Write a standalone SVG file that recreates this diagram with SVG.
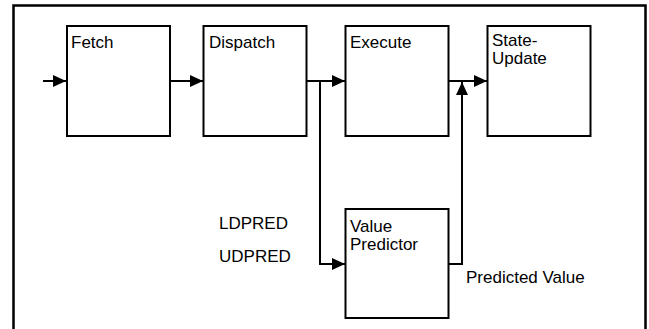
<svg xmlns="http://www.w3.org/2000/svg" width="649" height="329" viewBox="0 0 649 329">
  <style>
    .box { fill: #ffffff; stroke: #000000; stroke-width: 2; }
    .wire { fill: none; stroke: #000000; stroke-width: 2; }
    .lbl { font-family: "Liberation Sans", Arial, sans-serif; font-size: 17px; fill: #000000; }
  </style>
  <defs>
    <marker id="arrow" viewBox="0 0 13 12" refX="13" refY="6" markerWidth="13" markerHeight="12" markerUnits="userSpaceOnUse" orient="auto">
      <path d="M0,0 L13,6 L0,12 Z" fill="#000000"/>
    </marker>
  </defs>

  <rect width="649" height="329" fill="#ffffff"/>
  <!-- outer frame, open at the bottom edge -->
  <path d="M13.5,335 V5.5 H645.5 V335" fill="none" stroke="#000000" stroke-width="2.5"/>

  <g id="connectors">
    <path class="wire" d="M43,81 H66" marker-end="url(#arrow)"/>
    <path class="wire" d="M171,81 H203" marker-end="url(#arrow)"/>
    <path class="wire" d="M307,81 H345" marker-end="url(#arrow)"/>
    <path class="wire" d="M320,81 V264 H345" marker-end="url(#arrow)"/>
    <path class="wire" d="M449,81 H487" marker-end="url(#arrow)"/>
    <path class="wire" d="M449,264 H462 V82" marker-end="url(#arrow)"/>
  </g>

  <g id="fetch">
    <rect class="box" x="67" y="26" width="103" height="110"/>
    <text class="lbl" x="71" y="48">Fetch</text>
  </g>
  <g id="dispatch">
    <rect class="box" x="203.5" y="26" width="103" height="110"/>
    <text class="lbl" x="209" y="48">Dispatch</text>
  </g>
  <g id="execute">
    <rect class="box" x="345.5" y="26" width="103" height="110"/>
    <text class="lbl" x="350" y="48">Execute</text>
  </g>
  <g id="state-update">
    <rect class="box" x="487.5" y="26" width="103" height="110"/>
    <text class="lbl" x="492" y="46">State-</text>
    <text class="lbl" x="492" y="64">Update</text>
  </g>
  <g id="value-predictor">
    <rect class="box" x="345.5" y="209" width="103" height="109"/>
    <text class="lbl" x="350" y="232">Value</text>
    <text class="lbl" x="350" y="250">Predictor</text>
  </g>

  <g id="labels">
    <text class="lbl" x="219" y="229">LDPRED</text>
    <text class="lbl" x="219" y="262">UDPRED</text>
    <text class="lbl" x="466" y="283">Predicted Value</text>
  </g>
</svg>
